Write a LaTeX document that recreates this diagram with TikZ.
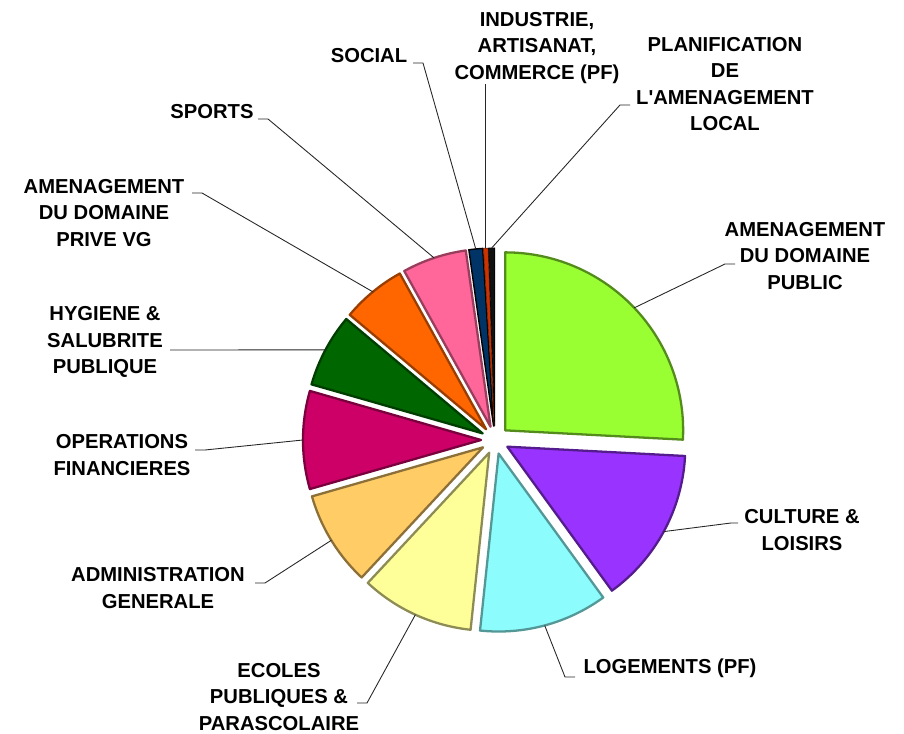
\documentclass[tikz,border=0pt]{standalone}
\usepackage{fontspec}
\setmainfont{Liberation Sans}
\usepackage{xcolor}
\usepackage{tikz}
\usetikzlibrary{calc}

\definecolor{cPublic}{HTML}{99FF33}
\definecolor{cCulture}{HTML}{9933FF}
\definecolor{cLogement}{HTML}{8CFCFC}
\definecolor{cEcole}{HTML}{FFFF99}
\definecolor{cAdmin}{HTML}{FFCC66}
\definecolor{cFinance}{HTML}{CC0066}
\definecolor{cHygiene}{HTML}{006600}
\definecolor{cPrive}{HTML}{FF6600}
\definecolor{cSport}{HTML}{FF6699}
\definecolor{cSocial}{HTML}{003366}
\definecolor{cIndus}{HTML}{CC3300}
\definecolor{cPlanif}{HTML}{111111}

\begin{document}
\begin{tikzpicture}[x=0.02cm, y=0.02cm,
  slice/.style={line width=1.3pt, line join=round},
  lbl/.style={font=\bfseries\fontsize{11.5}{15}\selectfont, align=center, inner sep=0pt},
  leader/.style={line width=0.5pt, black!85}]
\useasboundingbox (0,0) rectangle (904,734);
\coordinate (c) at (495,294);

% Exploded pie slices
\filldraw[slice, fill=cPublic, draw=cPublic!55!black, shift={(43.5:14)}] (495,294) -- ++(90:178) arc[start angle=90, end angle=-3, radius=178] -- cycle;
\filldraw[slice, fill=cCulture, draw=cCulture!55!black, shift={(-28.5:14)}] (495,294) -- ++(-3:178) arc[start angle=-3, end angle=-54, radius=178] -- cycle;
\filldraw[slice, fill=cLogement, draw=cLogement!60!black, shift={(-75:14)}] (495,294) -- ++(-54:178) arc[start angle=-54, end angle=-96, radius=178] -- cycle;
\filldraw[slice, fill=cEcole, draw=cEcole!55!black, shift={(-114.5:14)}] (495,294) -- ++(-96:178) arc[start angle=-96, end angle=-133, radius=178] -- cycle;
\filldraw[slice, fill=cAdmin, draw=cAdmin!55!black, shift={(-148.5:14)}] (495,294) -- ++(-133:178) arc[start angle=-133, end angle=-164, radius=178] -- cycle;
\filldraw[slice, fill=cFinance, draw=cFinance!60!black, shift={(-180:14)}] (495,294) -- ++(-164:178) arc[start angle=-164, end angle=-196, radius=178] -- cycle;
\filldraw[slice, fill=cHygiene, draw=cHygiene!60!black, shift={(-208:14)}] (495,294) -- ++(-196:178) arc[start angle=-196, end angle=-220, radius=178] -- cycle;
\filldraw[slice, fill=cPrive, draw=cPrive!60!black, shift={(-230.5:14)}] (495,294) -- ++(-220:178) arc[start angle=-220, end angle=-241, radius=178] -- cycle;
\filldraw[slice, fill=cSport, draw=cSport!60!black, shift={(-251.5:14)}] (495,294) -- ++(-241:178) arc[start angle=-241, end angle=-262, radius=178] -- cycle;
\filldraw[slice, line width=0.8pt, fill=cSocial, draw=black, shift={(-264.25:14)}] (495,294) -- ++(-262:178) arc[start angle=-262, end angle=-266.5, radius=178] -- cycle;
\filldraw[slice, line width=0.4pt, fill=cIndus, draw=cIndus!60!black, shift={(-267.25:14)}] (495,294) -- ++(-266.5:178) arc[start angle=-266.5, end angle=-268, radius=178] -- cycle;
\filldraw[slice, line width=0.4pt, fill=cPlanif, draw=black, shift={(-269:14)}] (495,294) -- ++(-268:178) arc[start angle=-268, end angle=-270, radius=178] -- cycle;

% Leader start points on the slices
\coordinate (pubPt) at ($(c)+(43.5:192)$);
\coordinate (culPt) at ($(c)+(-28.5:192)$);
\coordinate (logPt) at ($(c)+(-75:192)$);
\coordinate (ecoPt) at ($(c)+(-114.5:192)$);
\coordinate (admPt) at ($(c)+(-148.5:192)$);
\coordinate (finPt) at ($(c)+(-180:192)$);
\coordinate (hygPt) at ($(c)+(-208:192)$);
\coordinate (priPt) at ($(c)+(-230.5:192)$);
\coordinate (spoPt) at ($(c)+(-251.5:192)$);
\coordinate (socPt) at ($(c)+(-264.25:192)$);
\coordinate (indPt) at ($(c)+(-267.25:192)$);
\coordinate (plaPt) at ($(c)+(-269:192)$);

% Labels
\node[lbl] (pubLbl) at (805,478) {AMENAGEMENT\\DU DOMAINE\\PUBLIC};
\node[lbl] (culLbl) at (802,204) {CULTURE \&\\LOISIRS};
\node[lbl] (logLbl) at (670,66) {LOGEMENTS (PF)};
\node[lbl] (ecoLbl) at (279,37) {ECOLES\\PUBLIQUES \&\\PARASCOLAIRE};
\node[lbl] (admLbl) at (158,146) {ADMINISTRATION\\GENERALE};
\node[lbl] (finLbl) at (122,279) {OPERATIONS\\FINANCIERES};
\node[lbl] (hygLbl) at (105,392) {HYGIENE \&\\SALUBRITE\\PUBLIQUE};
\node[lbl] (priLbl) at (104,521) {AMENAGEMENT\\DU DOMAINE\\PRIVE VG};
\node[lbl] (spoLbl) at (212,622) {SPORTS};
\node[lbl] (socLbl) at (369,678) {SOCIAL};
\node[lbl] (indLbl) at (537,686) {INDUSTRIE,\\ARTISANAT,\\COMMERCE (PF)};
\node[lbl] (plaLbl) at (725,650) {PLANIFICATION\\DE\\L\textquotesingle AMENAGEMENT\\LOCAL};

% Leader bends
\coordinate (pubK) at (725,470);
\coordinate (culK) at (731,211);
\coordinate (logK) at (565,57);
\coordinate (ecoK) at (367,31);
\coordinate (admK) at (265,151);
\coordinate (finK) at (205,284);
\coordinate (hygK) at (180,384);
\coordinate (priK) at (202,541);
\coordinate (spoK) at (268,615);
\coordinate (socK) at (423,671);
\coordinate (plaK) at (620,629);

% Leader lines
\draw[leader] (pubPt) -- (pubK) -- ++(10,0);
\draw[leader] (culPt) -- (culK) -- ++(7,0);
\draw[leader] (logPt) -- (logK) -- ++(10,0);
\draw[leader] (ecoPt) -- (ecoK) -- ++(-10,0);
\draw[leader] (admPt) -- (admK) -- ++(-10,0);
\draw[leader] (finPt) -- (finK) -- ++(-10,0);
\draw[leader] (hygPt) -- (hygK) -- ++(-10,0);
\draw[leader] (priPt) -- (priK) -- ++(-10,0);
\draw[leader] (spoPt) -- (spoK) -- ++(-10,0);
\draw[leader] (socPt) -- (socK) -- ++(-10,0);
\draw[leader] (indPt) -- (indPt |- indLbl.south);
\draw[leader] (plaPt) -- (plaK) -- ++(10,0);

\end{tikzpicture}
\end{document}
